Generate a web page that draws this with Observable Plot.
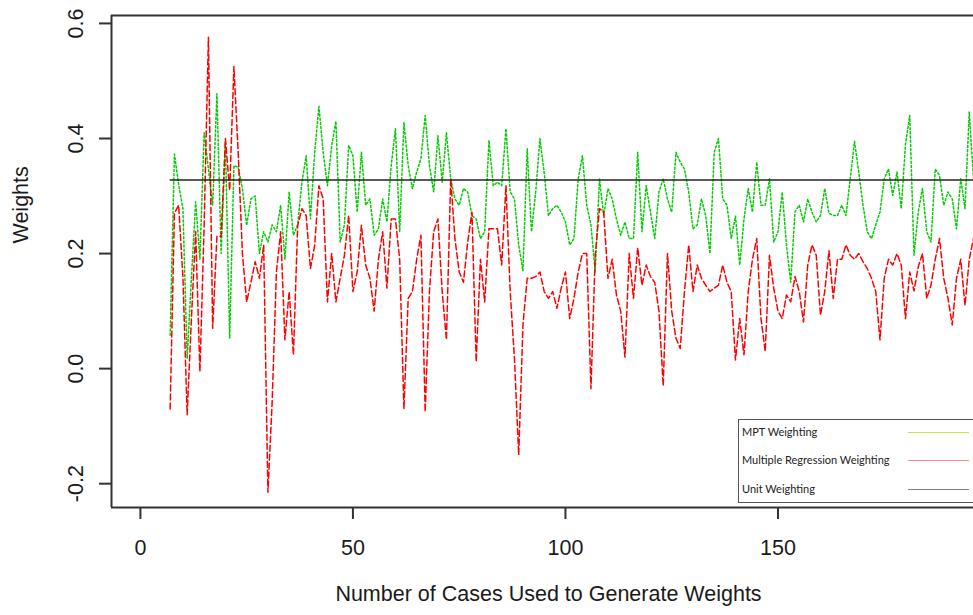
<!DOCTYPE html>
<html><head><meta charset="utf-8">
<script src="https://cdn.jsdelivr.net/npm/d3@7"></script>
<script src="https://cdn.jsdelivr.net/npm/@observablehq/plot@0.6"></script>
<style>
body{margin:0;background:#fff;}
#wrap{position:relative;width:973px;height:615px;overflow:hidden;}
#legend{position:absolute;left:738px;top:419px;width:250px;height:82px;border:1px solid #555;background:#fff;font-family:Lato,"Open Sans",sans-serif;font-size:11px;color:#222;}
#legend .t{position:absolute;left:3px;line-height:14px;white-space:nowrap;}
#legend .l{position:absolute;left:169px;width:61px;height:0;border-top:1.5px solid #888;}
</style>
</head><body>
<div id="wrap"><div id="chart"></div>
<div id="legend"></div></div>
<script>
// Number of cases used (first case plotted)
const firstCase = 7;
// MPT weighting (green dotted)
const mptWeights = [0.058,0.373,0.32,0.278,0.018,0.157,0.29,0.19,0.41,0.347,0.284,0.478,0.2,0.394,0.053,0.353,0.35,0.313,0.249,0.295,0.3,0.2,
0.238,0.22,0.25,0.238,0.284,0.19,0.307,0.232,0.25,0.324,0.37,0.26,0.376,0.456,0.376,0.318,0.388,0.43,0.22,0.25,0.388,0.37,
0.272,0.376,0.284,0.295,0.232,0.243,0.295,0.255,0.353,0.417,0.238,0.428,0.353,0.313,0.342,0.365,0.44,0.353,0.307,0.405,0.324,0.41,
0.33,0.295,0.284,0.313,0.307,0.266,0.26,0.226,0.238,0.397,0.318,0.324,0.318,0.417,0.307,0.295,0.215,0.17,0.382,0.238,0.307,0.4,
0.34,0.266,0.278,0.284,0.272,0.255,0.215,0.226,0.33,0.37,0.284,0.25,0.168,0.33,0.266,0.313,0.295,0.26,0.232,0.255,0.226,0.226,
0.376,0.238,0.318,0.272,0.226,0.307,0.33,0.295,0.272,0.376,0.359,0.347,0.307,0.243,0.25,0.295,0.266,0.2,0.376,0.40,0.295,0.284,
0.226,0.265,0.18,0.26,0.313,0.272,0.359,0.284,0.284,0.33,0.22,0.238,0.307,0.215,0.15,0.272,0.284,0.255,0.295,0.272,0.255,0.266,
0.313,0.27,0.266,0.266,0.284,0.266,0.33,0.395,0.342,0.284,0.238,0.226,0.25,0.272,0.33,0.347,0.301,0.342,0.278,0.39,0.44,0.197,
0.272,0.313,0.238,0.22,0.347,0.336,0.284,0.307,0.295,0.243,0.33,0.278,0.446,0.33];
// Multiple regression weighting (red dashed)
const regWeights = [-0.07,0.27,0.284,0.16,-0.08,0.087,0.238,-0.005,0.25,0.576,0.07,0.23,0.23,0.40,0.31,0.525,0.376,0.2,0.116,0.15,0.186,0.157,
0.215,-0.215,-0.057,0.168,0.238,0.05,0.134,0.024,0.249,0.278,0.266,0.174,0.214,0.318,0.295,0.116,0.2,0.116,0.157,0.197,0.266,0.134,
0.168,0.249,0.18,0.157,0.1,0.19,0.238,0.14,0.26,0.26,0.19,-0.07,0.122,0.134,0.19,0.232,-0.075,0.134,0.238,0.26,0.134,0.05,
0.33,0.226,0.168,0.15,0.22,0.272,0.012,0.19,0.116,0.243,0.243,0.243,0.18,0.318,0.134,0.018,-0.15,0.076,0.157,0.157,0.16,0.168,
0.134,0.122,0.134,0.105,0.14,0.168,0.087,0.122,0.168,0.2,0.2,-0.035,0.197,0.278,0.272,0.157,0.19,0.128,0.1,0.02,0.2,0.122,
0.21,0.145,0.18,0.16,0.15,0.1,-0.03,0.2,0.1,0.053,0.035,0.134,0.215,0.134,0.18,0.157,0.145,0.134,0.14,0.145,0.18,0.15,
0.134,0.015,0.087,0.024,0.134,0.19,0.226,0.087,0.03,0.197,0.14,0.1,0.087,0.128,0.116,0.16,0.134,0.081,0.18,0.215,0.197,0.093,
0.134,0.205,0.122,0.19,0.19,0.215,0.197,0.19,0.2,0.186,0.174,0.157,0.134,0.05,0.157,0.19,0.18,0.2,0.18,0.087,0.168,0.135,
0.177,0.2,0.122,0.145,0.19,0.226,0.157,0.122,0.076,0.157,0.19,0.11,0.19,0.226];
// Unit weighting (black solid)
const unitWeight = 0.328;
const xTicks = [0, 50, 100, 150];
const yTicks = [-0.2, 0.0, 0.2, 0.4, 0.6];
const legendLabels = ["MPT Weighting", "Multiple Regression Weighting", "Unit Weighting"];
const legendColors = ["#c5e63a", "#f28b8b", "#808080"];
const xTitle = "Number of Cases Used to Generate Weights";
const yTitle = "Weights";

const rows = mptWeights.map((m, i) => ({case: firstCase + i, mpt: m, reg: regWeights[i]}));
const lastCase = firstCase + mptWeights.length - 1;
const unitRows = [{case: firstCase, w: unitWeight}, {case: lastCase, w: unitWeight}];
const xDomain = [-6.8, 196];
const yDomain = [-0.2414, 0.6138];
const boxColor = "#333";

const chart = Plot.plot({
  width: 973, height: 615,
  marginLeft: 111, marginRight: 0, marginTop: 15, marginBottom: 108,
  x: {domain: xDomain},
  y: {domain: yDomain},
  style: {fontFamily: "'Liberation Sans', Arial, sans-serif", fontSize: "21px", color: "#1a1a1a", background: "white"},
  marks: [
    Plot.line(rows, {x: "case", y: "mpt", stroke: "#00cd00", strokeWidth: 1.5, strokeDasharray: "2,2.2"}),
    Plot.line(rows, {x: "case", y: "reg", stroke: "#ff0000", strokeWidth: 1.5, strokeDasharray: "6,3"}),
    Plot.line(unitRows, {x: "case", y: "w", stroke: "#222", strokeWidth: 1.5}),
    Plot.ruleY([yDomain[1]], {stroke: boxColor, strokeWidth: 2}),
    Plot.ruleY([yDomain[0]], {stroke: boxColor, strokeWidth: 2}),
    Plot.ruleX([xDomain[0]], {stroke: boxColor, strokeWidth: 2}),
    Plot.axisX(xTicks, {tickSize: 12, tickPadding: 20, fontSize: 21.5, stroke: boxColor, strokeWidth: 2, label: null, tickFormat: d => String(d)}),
    Plot.axisY(yTicks, {tickSize: 12, tickPadding: 17, tickRotate: -90, fontSize: 21.5, stroke: boxColor, strokeWidth: 2, label: null, tickFormat: d => d.toFixed(1)}),
    Plot.text([xTitle], {frameAnchor: "bottom", dx: 6, dy: 93, fontSize: 21.5, text: d => d}),
    Plot.text([yTitle], {frameAnchor: "left", dx: -90, dy: -18, rotate: -90, fontSize: 21.5, text: d => d})
  ]
});
document.getElementById("chart").appendChild(chart);

const legend = document.getElementById("legend");
const rowTops = [12, 40, 69];
legendLabels.forEach((lab, i) => {
  const t = document.createElement("div");
  t.className = "t"; t.textContent = lab; t.style.top = (rowTops[i] - 7) + "px";
  legend.appendChild(t);
  const l = document.createElement("div");
  l.className = "l"; l.style.top = rowTops[i] + "px"; l.style.borderTopColor = legendColors[i];
  legend.appendChild(l);
});
</script>
</body></html>
